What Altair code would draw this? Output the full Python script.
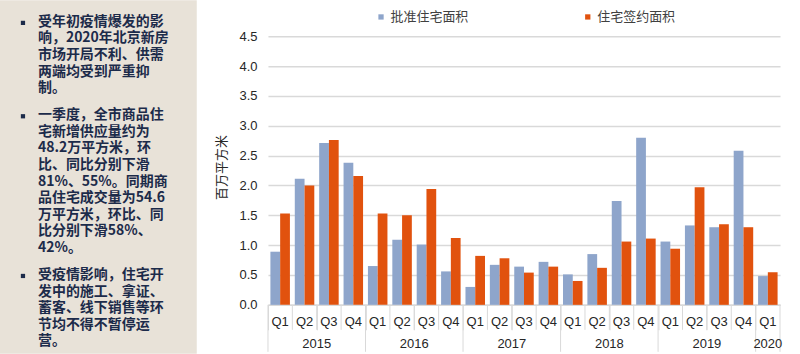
import altair as alt
import pandas as pd

# ---------------- data ----------------
years = ["2015", "2016", "2017", "2018", "2019", "2020"]
quarter_labels = ["Q1", "Q2", "Q3", "Q4"] * 5 + ["Q1"]
quarter_years = [y for y in years[:5] for _ in range(4)] + ["2020"]
series_names = ["批准住宅面积", "住宅签约面积"]
approved = [0.89, 2.11, 2.71, 2.38, 0.65, 1.09, 1.01, 0.56, 0.30, 0.67, 0.64,
            0.72, 0.51, 0.85, 1.74, 2.80, 1.06, 1.33, 1.30, 2.58, 0.482]
signed = [1.53, 2.00, 2.76, 2.16, 1.53, 1.50, 1.94, 1.12, 0.82, 0.78, 0.54,
          0.64, 0.40, 0.62, 1.06, 1.11, 0.94, 1.97, 1.35, 1.30, 0.546]
y_ticks = [0, 0.5, 1.0, 1.5, 2.0, 2.5, 3.0, 3.5, 4.0, 4.5]

paragraphs = [
    ["受年初疫情爆发的影", "响，2020年北京新房", "市场开局不利、供需",
     "两端均受到严重抑", "制。"],
    ["一季度，全市商品住", "宅新增供应量约为", "48.2万平方米，环",
     "比、同比分别下滑", "81%、55%。同期商", "品住宅成交量为54.6",
     "万平方米，环比、同", "比分别下滑58%、", "42%。"],
    ["受疫情影响，住宅开", "发中的施工、拿证、", "蓄客、线下销售等环",
     "节均不得不暂停运", "营。"],
]

BLUE = "#8ea5cb"
ORANGE = "#e1520e"
GRID = "#d9d9d9"
TXT = "#262626"
NAVY = "#1c2b4a"
FONT = "Liberation Sans, Noto Sans CJK SC"
CJK = "Noto Sans CJK SC"

n = len(quarter_labels)
rows = []
for i in range(n):
    for s, (name, vals) in enumerate(zip(series_names, [approved, signed])):
        rows.append({"idx": i, "quarter": quarter_labels[i], "year": quarter_years[i],
                     "series": name, "s": s, "value": vals[i]})
df = pd.DataFrame(rows)
cats = pd.DataFrame({"idx": list(range(n)), "quarter": quarter_labels, "year": quarter_years})
year_bounds = pd.DataFrame({"b": [0, 4, 8, 12, 16, 20, 21]})
inner_bounds = pd.DataFrame({"b": [b for b in range(1, 21) if b % 4 != 0]})

para_rows = []
g = 0
for p, lines in enumerate(paragraphs):
    para_rows.append({"para": p, "row": g, "lines": lines})
    g += len(lines)
pdf = pd.DataFrame(para_rows)

# ---------------- left text panel ----------------
LINE_H = 16.6
ty = alt.Y("pos:Q", scale=alt.Scale(domain=[-1.367, 19.96], reverse=True, nice=False, zero=False), axis=None)
tbase = alt.Chart(pdf).transform_calculate(pos="datum.row + datum.para * 0.633")
txt = tbase.mark_text(align="left", baseline="top", dy=-8, font=CJK, fontSize=14,
                      fontWeight="bold", color=NAVY, lineHeight=LINE_H).encode(
    x=alt.value(38), y=ty, text=alt.Text("lines"))
bul = tbase.mark_square(size=18, color=NAVY, opacity=1).encode(
    x=alt.value(23), y=ty)
left = alt.layer(txt, bul).properties(
    width=197, height=354,
    view=alt.ViewBackground(fill="#e8e2d8", strokeWidth=0))

# ---------------- bar chart ----------------
xs = alt.Scale(domain=[0, n], nice=False, zero=False)
yscale = alt.Scale(domain=[0, 4.5], range=[305, 36], nice=False)

bars = alt.Chart(df).transform_calculate(
    x0="datum.idx + 0.1 + 0.4 * datum.s", x1="datum.idx + 0.5 + 0.4 * datum.s"
).mark_bar().encode(
    x=alt.X("x0:Q", scale=xs,
            axis=alt.Axis(values=list(range(n + 1)), labels=False, tickSize=25,
                          tickColor=GRID, domainColor=GRID, grid=False, title=None,
                          domainWidth=1.5)),
    x2="x1:Q",
    y=alt.Y("value:Q", scale=yscale,
            axis=alt.Axis(values=y_ticks, format=".1f", grid=True, gridColor=GRID,
                          gridWidth=1.5, domain=False, ticks=False, labelPadding=11,
                          labelFontSize=13, labelColor=TXT, labelFont=FONT,
                          title="百万平方米", titleFont=CJK, titleFontSize=13,
                          titleFontWeight="normal", titleColor=TXT,
                          titleX=-40, titleY=167)),
    y2=alt.datum(0),
    color=alt.Color("series:N", scale=alt.Scale(domain=series_names, range=[BLUE, ORANGE]),
                    sort=series_names,
                    legend=alt.Legend(orient="none", legendX=375, legendY=10,
                                      direction="horizontal", title=None,
                                      symbolType="square", symbolSize=28,
                                      labelFont=CJK, labelFontSize=13, labelColor="#404040",
                                      columnPadding=112, labelOffset=3)),
)

yr_rules = alt.Chart(year_bounds).mark_rule(color=GRID, strokeWidth=1).encode(
    x=alt.X("b:Q", scale=xs), y=alt.value(305), y2=alt.value(352))
in_rules = alt.Chart(inner_bounds).mark_rule(color=GRID, strokeWidth=1).encode(
    x=alt.X("b:Q", scale=xs), y=alt.value(305), y2=alt.value(330))

qlab = alt.Chart(cats).transform_calculate(xc="datum.idx + 0.5").mark_text(
    font=FONT, fontSize=13, color=TXT, baseline="middle").encode(
    x=alt.X("xc:Q", scale=xs), y=alt.value(322), text="quarter:N")

ylab = alt.Chart(cats).transform_calculate(xc="datum.idx + 0.5").transform_aggregate(
    xm="mean(xc)", groupby=["year"]).mark_text(
    font=FONT, fontSize=13, color=TXT, baseline="middle").encode(
    x=alt.X("xm:Q", scale=xs), y=alt.value(344), text="year:N")

right = alt.layer(bars, yr_rules, in_rules, qlab, ylab).properties(width=512.7, height=305)

chart = alt.hconcat(left, right, spacing=71.3, bounds="flush").properties(
    padding={"left": 0, "top": 0, "right": 17, "bottom": 0},
    background="white",
).configure_view(strokeWidth=0)

chart.save("out.html", embed_options={"renderer": "svg", "actions": False})
